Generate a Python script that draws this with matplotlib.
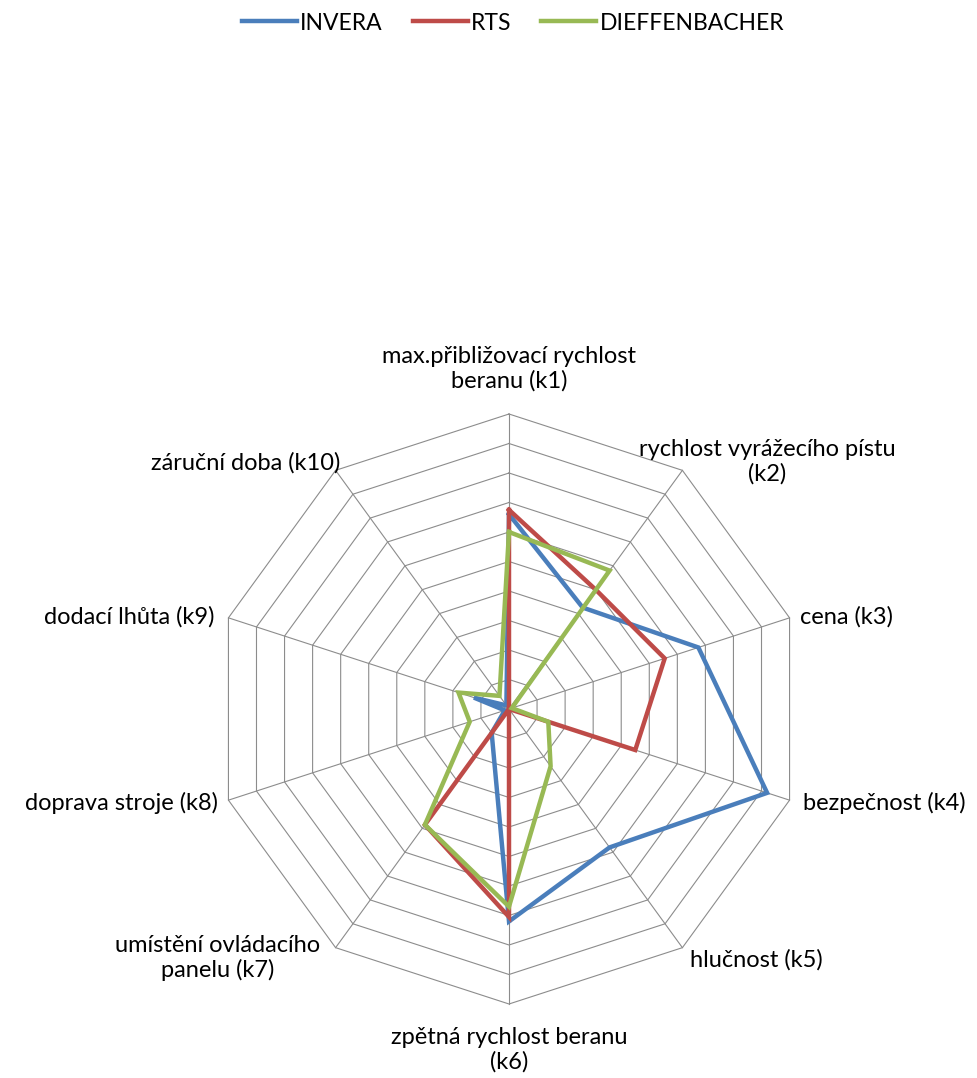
import numpy as np
import matplotlib
matplotlib.use("Agg")
import matplotlib.pyplot as plt

plt.rcParams['font.family'] = ['Lato', 'DejaVu Sans']

categories = [
    "max.přibližovací rychlost\nberanu (k1)",
    "rychlost vyrážecího pístu\n(k2)",
    "cena (k3)",
    "bezpečnost (k4)",
    "hlučnost (k5)",
    "zpětná rychlost beranu\n(k6)",
    "umístění ovládacího\npanelu (k7)",
    "doprava stroje (k8)",
    "dodací lhůta (k9)",
    "záruční doba (k10)",
]
series_names = ["INVERA", "RTS", "DIEFFENBACHER"]
invera = [6.6, 4.25, 6.75, 9.2, 5.8, 7.2, 1.0, 0.15, 1.25, 0.15]
rts = [6.75, 5.0, 5.55, 4.5, 0.0, 7.05, 4.85, 0.0, 0.0, 0.0]
dieffenbacher = [6.0, 5.8, 0.1, 1.4, 2.4, 6.7, 4.85, 1.4, 1.8, 0.55]
colors = ["#4A7EBB", "#BE4B48", "#98B954"]
max_val = 10
ring_levels = list(range(1, 11))

W, H = 977, 1078
fig = plt.figure(figsize=(W / 100, H / 100), dpi=100)

cx, cy, R = 509, 709, 295
ax = fig.add_axes([(cx - R) / W, (H - cy - R) / H, 2 * R / W, 2 * R / H], projection='polar')
ax.set_theta_zero_location('N')
ax.set_theta_direction(-1)
ax.set_ylim(0, max_val)
ax.grid(False)
ax.spines['polar'].set_visible(False)
ax.set_xticks([])
ax.set_yticks([])
ax.patch.set_visible(False)

n = len(categories)
angles = np.linspace(0, 2 * np.pi, n, endpoint=False)
closed = np.concatenate([angles, angles[:1]])

grid_c = "#8c8c8c"
for lv in ring_levels:
    ax.plot(closed, [lv] * (n + 1), color=grid_c, lw=0.8, zorder=1, clip_on=False)
for a in angles:
    ax.plot([a, a], [0, max_val], color=grid_c, lw=0.8, zorder=1, clip_on=False)

for name, vals, c in zip(series_names, [invera, rts, dieffenbacher], colors):
    v = list(vals) + [vals[0]]
    ax.plot(closed, v, color=c, lw=3.2, label=name, zorder=3, solid_joinstyle='miter', clip_on=False)

def fx(x):
    return x / W

def fy(y):
    return 1 - y / H

fs = 17
label_pos = [
    (509, 369, 'center'),
    (767, 462, 'center'),
    (800, 617, 'left'),
    (803, 803, 'left'),
    (690, 960, 'left'),
    (509, 1050, 'center'),
    (218, 958, 'center'),
    (218, 803, 'right'),
    (215, 617, 'right'),
    (340, 463, 'right'),
]
for text, (x, y, ha) in zip(categories, label_pos):
    fig.text(fx(x), fy(y), text, ha=ha, va='center', fontsize=fs,
             multialignment='center', linespacing=1.2, color='black')

handles, labels = ax.get_legend_handles_labels()
fig.legend(handles, labels, loc='center', bbox_to_anchor=(fx(513), fy(23)), ncol=3,
           frameon=False, fontsize=16.5, handlelength=2.4, handletextpad=0.15,
           columnspacing=1.3)

fig.savefig("out.png", dpi=100)
